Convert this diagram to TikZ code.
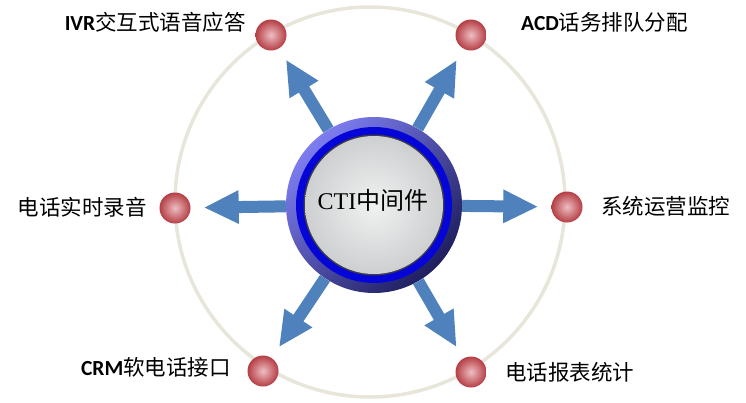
\documentclass[tikz,border=0pt]{standalone}
\usepackage{fontspec}
\setmainfont{Liberation Serif}
\newfontfamily\cjk{Noto Sans CJK SC}
\newfontfamily\lat{Carlito}
\usetikzlibrary{arrows.meta}
\definecolor{arrowblue}{RGB}{79,129,189}
\definecolor{ringbeige}{RGB}{232,230,218}
\definecolor{ringlight}{RGB}{125,125,240}
\definecolor{ringdark}{RGB}{30,30,95}
\definecolor{bandblue}{RGB}{5,5,215}
\definecolor{discedge}{RGB}{60,60,70}
\definecolor{disclight}{RGB}{240,242,242}
\definecolor{discdark}{RGB}{205,207,208}
\definecolor{dotlight}{RGB}{238,190,194}
\definecolor{dotdark}{RGB}{180,62,68}
\begin{document}
\begin{tikzpicture}[x=1pt,y=-1pt,
  dot/.style={circle,minimum size=31pt,inner sep=0pt,inner color=dotlight,outer color=dotdark},
  lbl/.style={inner sep=0pt,font=\cjk\fontsize{21.5}{24}\selectfont},
  arr/.style={draw=arrowblue,line width=12pt,-{Triangle[width=31pt,length=35pt]},shorten >=13pt}]
\useasboundingbox (0,0) rectangle (746,402);
\draw[ringbeige,line width=3.5pt] (370,202) circle (195pt);
\node[circle,minimum size=176pt,inner sep=0pt,top color=ringlight,bottom color=ringdark,shading angle=45] (cti) at (374,205) {};
\node[circle,minimum size=156pt,inner sep=0pt,fill=bandblue] (band) at (cti.center) {};
\node[circle,minimum size=141pt,inner sep=0pt,fill=discedge] (edge) at (cti.center) {};
\node[circle,minimum size=138pt,inner sep=0pt,inner color=disclight,outer color=discdark] (disc) at (cti.center) {};
\node[inner sep=0pt,font=\fontsize{24}{24}\selectfont] (ctitext) at (373,200) {CTI{\cjk 中间件}};
\node[dot] (ivr) at (271,35) {};
\node[dot] (acd) at (471,35) {};
\node[dot] (rec) at (175,208) {};
\node[dot] (mon) at (567,207) {};
\node[dot] (crm) at (263,371) {};
\node[dot] (rpt) at (471,372) {};
\foreach \d in {ivr,acd,rec,mon,crm,rpt}
  \draw[arr] (cti) -- (\d);
\node[lbl,anchor=east] (ivrtext) at (246,22) {{\lat\bfseries IVR}交互式语音应答};
\node[lbl,anchor=west] (acdtext) at (521,22) {{\lat\bfseries ACD}话务排队分配};
\node[lbl,anchor=east] (rectext) at (147,207) {电话实时录音};
\node[lbl,anchor=west] (montext) at (601,206) {系统运营监控};
\node[lbl,anchor=east] (crmtext) at (231,367) {{\lat\bfseries CRM}软电话接口};
\node[lbl,anchor=west] (rpttext) at (505,372) {电话报表统计};
\end{tikzpicture}
\end{document}
